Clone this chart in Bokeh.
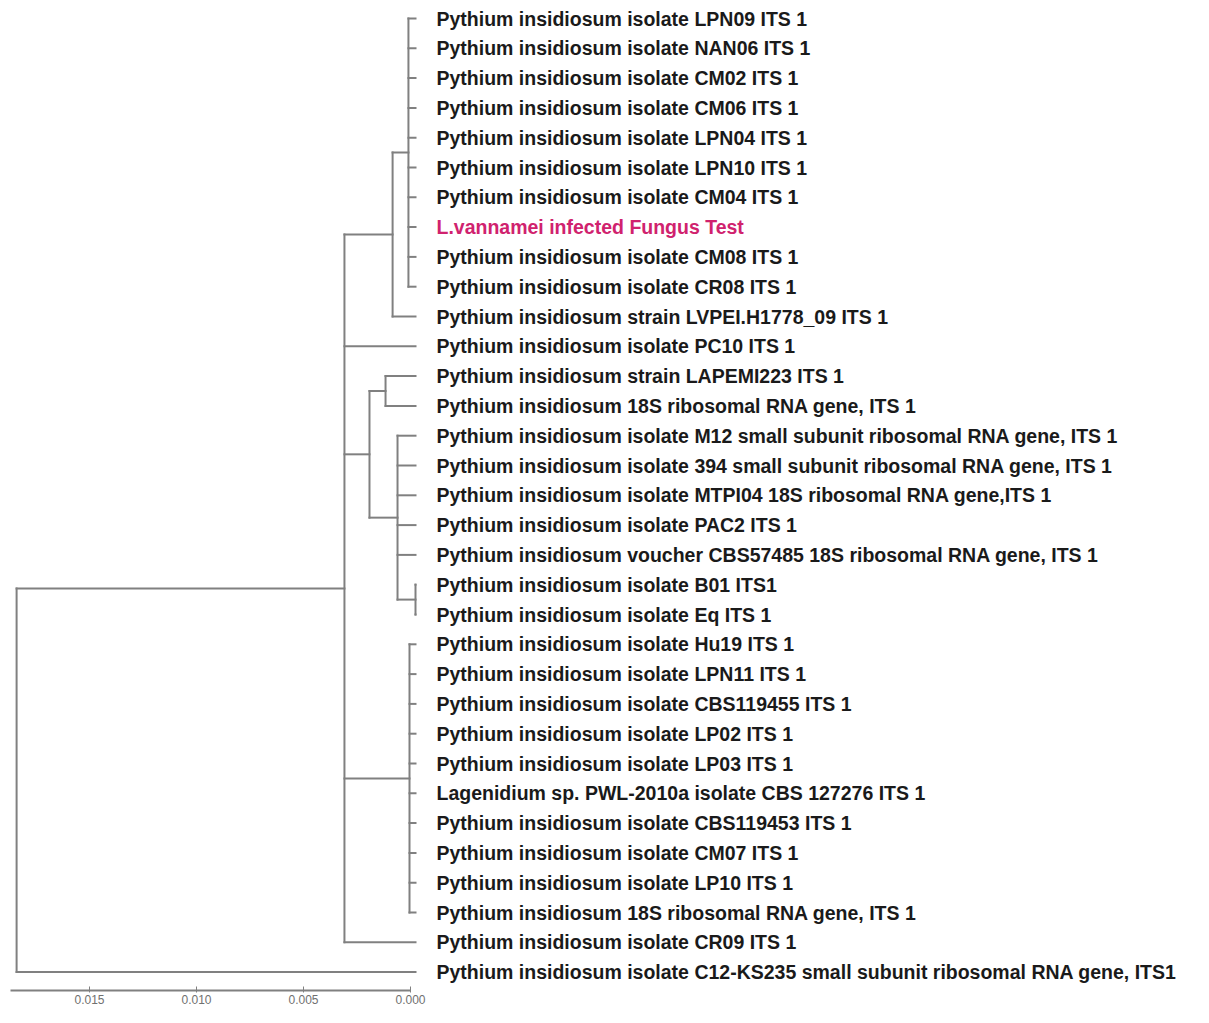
from bokeh.plotting import figure
from bokeh.models import Range1d, LinearAxis, FixedTicker, PrintfTickFormatter
from bokeh.core.properties import value
from bokeh.embed import file_html
from bokeh.resources import INLINE

# ---------------- data ----------------
leaf_labels = [
    "Pythium insidiosum isolate LPN09 ITS 1",
    "Pythium insidiosum isolate NAN06 ITS 1",
    "Pythium insidiosum isolate CM02 ITS 1",
    "Pythium insidiosum isolate CM06 ITS 1",
    "Pythium insidiosum isolate LPN04 ITS 1",
    "Pythium insidiosum isolate LPN10 ITS 1",
    "Pythium insidiosum isolate CM04 ITS 1",
    "L.vannamei infected Fungus Test",
    "Pythium insidiosum isolate CM08 ITS 1",
    "Pythium insidiosum isolate CR08 ITS 1",
    "Pythium insidiosum strain LVPEI.H1778_09 ITS 1",
    "Pythium insidiosum isolate PC10 ITS 1",
    "Pythium insidiosum strain LAPEMI223 ITS 1",
    "Pythium insidiosum 18S ribosomal RNA gene, ITS 1",
    "Pythium insidiosum isolate M12 small subunit ribosomal RNA gene, ITS 1",
    "Pythium insidiosum isolate 394 small subunit ribosomal RNA gene, ITS 1",
    "Pythium insidiosum isolate MTPI04 18S ribosomal RNA gene,ITS 1",
    "Pythium insidiosum isolate PAC2 ITS 1",
    "Pythium insidiosum voucher CBS57485 18S ribosomal RNA gene, ITS 1",
    "Pythium insidiosum isolate B01 ITS1",
    "Pythium insidiosum isolate Eq ITS 1",
    "Pythium insidiosum isolate Hu19 ITS 1",
    "Pythium insidiosum isolate LPN11 ITS 1",
    "Pythium insidiosum isolate CBS119455 ITS 1",
    "Pythium insidiosum isolate LP02 ITS 1",
    "Pythium insidiosum isolate LP03 ITS 1",
    "Lagenidium sp. PWL-2010a isolate CBS 127276 ITS 1",
    "Pythium insidiosum isolate CBS119453 ITS 1",
    "Pythium insidiosum isolate CM07 ITS 1",
    "Pythium insidiosum isolate LP10 ITS 1",
    "Pythium insidiosum 18S ribosomal RNA gene, ITS 1",
    "Pythium insidiosum isolate CR09 ITS 1",
    "Pythium insidiosum isolate C12-KS235 small subunit ribosomal RNA gene, ITS1",
]
leaf_parent = (["B1"] * 10 + ["B", "A", "D", "D"] + ["E"] * 5 + ["F", "F"]
               + ["G"] * 10 + ["A", "root"])

node_names = ["root", "A", "B", "B1", "C", "D", "E", "F", "G"]
node_heights = [0.01864, 0.00332, 0.00107, 0.00033, 0.00215, 0.00140, 0.00084, 0.0, 0.00028]
node_parent = [None, "root", "A", "B", "A", "C", "C", "E", "A"]

highlight_label = "L.vannamei infected Fungus Test"
scale_ticks = [0.015, 0.010, 0.005, 0.000]
scale_length = 0.0187

# ---------------- tree layout ----------------
height = dict(zip(node_names, node_heights))
parent = dict(zip(node_names, node_parent))
ycache = {}
span = {}


def node_y(n):
    if n in ycache:
        return ycache[n]
    ys = [i for i, p in enumerate(leaf_parent) if p == n]
    ys += [node_y(c) for c in node_names if parent[c] == n]
    span[n] = (min(ys), max(ys))
    ycache[n] = (min(ys) + max(ys)) / 2.0
    return ycache[n]


for n in node_names:
    node_y(n)

x0s, x1s, y0s, y1s = [], [], [], []
# leaf branches
for i, p in enumerate(leaf_parent):
    x0s.append(height[p]); x1s.append(0.0); y0s.append(i); y1s.append(i)
# internal branches
for n in node_names:
    if parent[n] is not None:
        y = ycache[n]
        x0s.append(height[parent[n]]); x1s.append(height[n]); y0s.append(y); y1s.append(y)
    a, b = span[n]
    x0s.append(height[n]); x1s.append(height[n]); y0s.append(a); y1s.append(b)

# ---------------- figure ----------------
PX_PER_UNIT = 21400.0
FW, FH = 1193, 990
tip_px = 415
zero_px = 410
row0_px, row_step = 18, 29.8

x_range = Range1d(start=tip_px / PX_PER_UNIT, end=-(FW - tip_px) / PX_PER_UNIT)
y_range = Range1d(start=(FH - row0_px) / row_step, end=-row0_px / row_step)

p = figure(frame_width=FW, frame_height=FH, x_range=x_range, y_range=y_range,
           x_axis_type=None, y_axis_type=None,
           output_backend="svg", toolbar_location=None,
           min_border=0, min_border_left=0, min_border_right=0,
           min_border_top=0, min_border_bottom=0)
p.outline_line_color = None
p.background_fill_color = "white"
p.border_fill_color = "white"

p.segment(x0=x0s, y0=y0s, x1=x1s, y1=y1s, line_color="#808080",
          line_width=2, line_cap="square")

colors = ["#d0226e" if t == highlight_label else "#1a1a1a" for t in leaf_labels]
p.text(x=[0.0] * len(leaf_labels), y=list(range(len(leaf_labels))), text=leaf_labels,
       x_offset=21, text_baseline="middle", text_align="left",
       text_font=value("Liberation Sans"), text_font_style="bold",
       text_font_size="19.5px", text_color=colors)

# scale axis (own range so 0.000 sits where the reference draws it)
p.extra_x_ranges = {"scale": Range1d(start=zero_px / PX_PER_UNIT,
                                     end=-(FW - zero_px) / PX_PER_UNIT)}
ax = LinearAxis(x_range_name="scale", bounds=(0.0, scale_length),
                ticker=FixedTicker(ticks=scale_ticks, minor_ticks=[]),
                formatter=PrintfTickFormatter(format="%.3f"))
ax.axis_line_color = "#808080"
ax.axis_line_width = 2
ax.major_tick_line_color = "#808080"
ax.major_tick_in = 4
ax.major_tick_out = 2
ax.minor_tick_line_color = None
ax.major_label_standoff = 2
ax.major_label_text_font = "Liberation Sans"
ax.major_label_text_font_size = "12px"
ax.major_label_text_color = "#707070"
p.add_layout(ax, "below")

open("out.html", "w").write(file_html(p, INLINE))
